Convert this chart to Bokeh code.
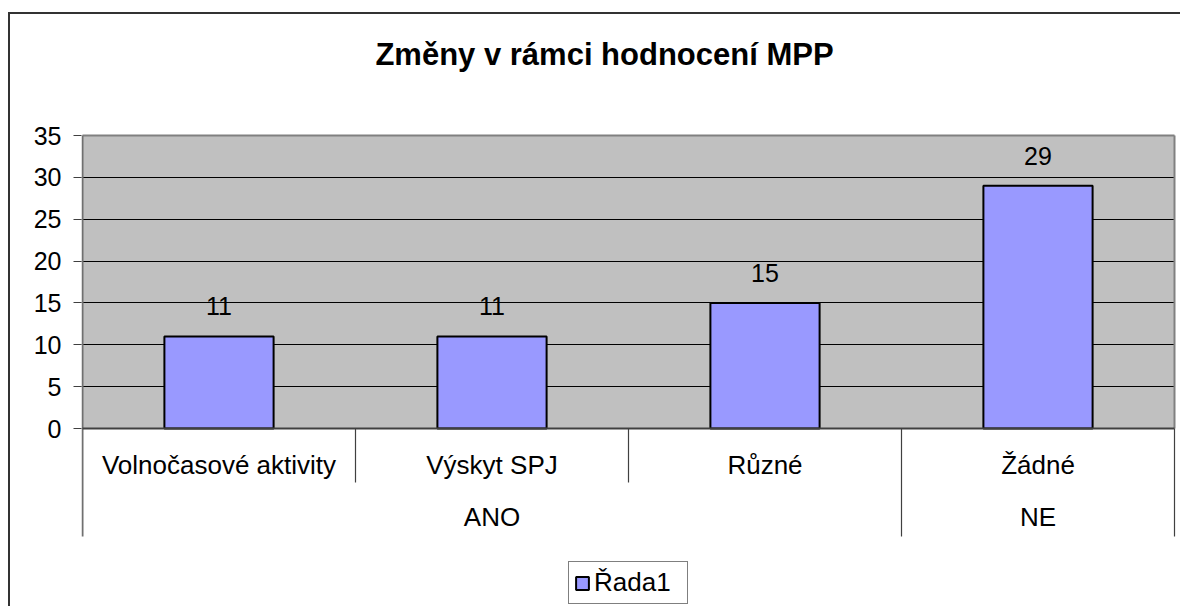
import numpy as np
from bokeh.plotting import figure
from bokeh.models import Range1d, FixedTicker, BoxAnnotation
from bokeh.core.properties import value
from bokeh.embed import file_html
from bokeh.resources import INLINE

# ---------------- data ----------------
chart_title = "Změny v rámci hodnocení MPP"
categories = ["Volnočasové aktivity", "Výskyt SPJ", "Různé", "Žádné"]
groups = ["ANO", "ANO", "ANO", "NE"]
counts = [11, 11, 15, 29]
series_name = "Řada1"
y_ticks = [0, 5, 10, 15, 20, 25, 30, 35]

# ---------------- layout constants (pixels) ----------------
W, H = 1180, 606
FRAME_L = 81           # frame left edge
PLOT_L, PLOT_R = 82, 1174   # pixel extent of the category axis
ZERO_PX = 428          # y pixel of value 0
TOP_PX = 135           # y pixel of top tick
TITLE_CX, TITLE_CY = 604, 54
LEGEND_X = 568
FONT = "Liberation Sans"

y_max = y_ticks[-1]
ppu = (ZERO_PX - TOP_PX) / y_max
y_top = y_max + TOP_PX / ppu
y_bot = -(H - ZERO_PX) / ppu
n = len(categories)
cat_px = (PLOT_R - PLOT_L) / n
x_start = -(PLOT_L - FRAME_L) / cat_px
x_end = n + (W - PLOT_R) / cat_px


def below(px):
    return -px / ppu


def above_top(px_from_top):
    return y_max + (TOP_PX - px_from_top) / ppu


xc = np.arange(n) + 0.5

p = figure(width=W, height=H, x_range=Range1d(x_start, x_end), y_range=Range1d(y_bot, y_top),
           output_backend="svg", toolbar_location=None, x_axis_location=None,
           title_location=None,
           min_border_left=FRAME_L, min_border_top=0, min_border_right=0,
           min_border_bottom=0, background_fill_color=None,
           border_fill_color=None, outline_line_color=None)
# outer chart border (left and top edges; right/bottom lie outside the window)
p.styles = {"background": "linear-gradient(#333333, #333333) 8px 12px / 2px 100% no-repeat, "
                          "linear-gradient(#333333, #333333) 8px 12px / 100% 2px no-repeat, #ffffff"}

# gray plot area, drawn beneath the grid lines
plot_area = BoxAnnotation(left=0, right=n, bottom=0, top=y_max, fill_color="#C0C0C0",
                          fill_alpha=1, line_color=None, level="underlay")
p.center = [plot_area] + list(p.center)

# y axis
p.yaxis.ticker = FixedTicker(ticks=y_ticks)
p.yaxis.axis_line_color = None
p.yaxis.major_tick_in = 0
p.yaxis.major_tick_out = 8
p.yaxis.major_tick_line_color = "#404040"
p.yaxis.minor_tick_line_color = None
p.yaxis.major_label_standoff = 12
p.yaxis.major_label_text_font = FONT
p.yaxis.major_label_text_font_size = "25px"
p.yaxis.major_label_text_color = "black"

p.ygrid.ticker = FixedTicker(ticks=y_ticks[1:-1])
p.ygrid.grid_line_color = "black"
p.ygrid.grid_line_width = 1
p.xgrid.visible = False

# keep grid lines inside the plot area (white strip right of it)
p.quad(left=[n], right=[x_end + 1], bottom=[0], top=[y_max], fill_color="white", line_color=None)

# title
p.text(x=[(TITLE_CX - PLOT_L) / cat_px], y=[above_top(TITLE_CY)], text=[chart_title],
       text_align="center", text_baseline="middle", text_font=value(FONT),
       text_font_size="31px", text_font_style="bold", text_color="black")

# plot-area border (top and right, gray)
p.segment(x0=[0, n], y0=[y_max, 0], x1=[n, n], y1=[y_max, y_max], line_color="#808080", line_width=2)

# left axis line extending into the category area
long_end = below(108)
short_end = below(54)
p.segment(x0=[0], y0=[y_max], x1=[0], y1=[long_end], line_color="#707070", line_width=2)

# category separators
sx, sy0, sy1 = [], [], []
for b in range(1, n):
    sx.append(b)
    sy0.append(0)
    sy1.append(long_end if groups[b - 1] != groups[b] else short_end)
sx.append(n)
sy0.append(0)
sy1.append(long_end)
p.segment(x0=sx, y0=sy0, x1=sx, y1=sy1, line_color="#404040", line_width=1.2)

# bars
p.vbar(x=xc, top=counts, bottom=0, width=0.4, fill_color="#9999FF", line_color="black",
       line_width=2, legend_label=series_name)

# zero line
p.segment(x0=[0], y0=[0], x1=[n], y1=[0], line_color="#404040", line_width=2)

# value labels
p.text(x=xc, y=counts, text=[str(c) for c in counts], y_offset=-30, text_align="center",
       text_baseline="alphabetic", text_font=value(FONT), text_font_size="25px", text_color="black")

# category labels (level 1)
p.text(x=xc, y=[below(36)] * n, text=categories, text_align="center", text_baseline="middle",
       text_font=value(FONT), text_font_size="26px", text_color="black")

# group labels (level 2)
gx, gt = [], []
start = 0
for i in range(1, n + 1):
    if i == n or groups[i] != groups[start]:
        gx.append((start + i) / 2)
        gt.append(groups[start])
        start = i
p.text(x=gx, y=[below(88)] * len(gx), text=gt, text_align="center", text_baseline="middle",
       text_font=value(FONT), text_font_size="26px", text_color="black")

# legend
lg = p.legend[0]
lg.location = (LEGEND_X - FRAME_L, 2)
lg.orientation = "vertical"
lg.border_line_color = "black"
lg.border_line_width = 1
lg.background_fill_color = "white"
lg.background_fill_alpha = 1
lg.label_text_font = FONT
lg.label_text_font_size = "26px"
lg.label_text_color = "black"
lg.glyph_width = 16
lg.glyph_height = 16
lg.padding = 5
lg.margin = 0
lg.spacing = 0
lg.label_standoff = 4
lg.label_width = 88

open("out.html", "w").write(file_html(p, INLINE))
